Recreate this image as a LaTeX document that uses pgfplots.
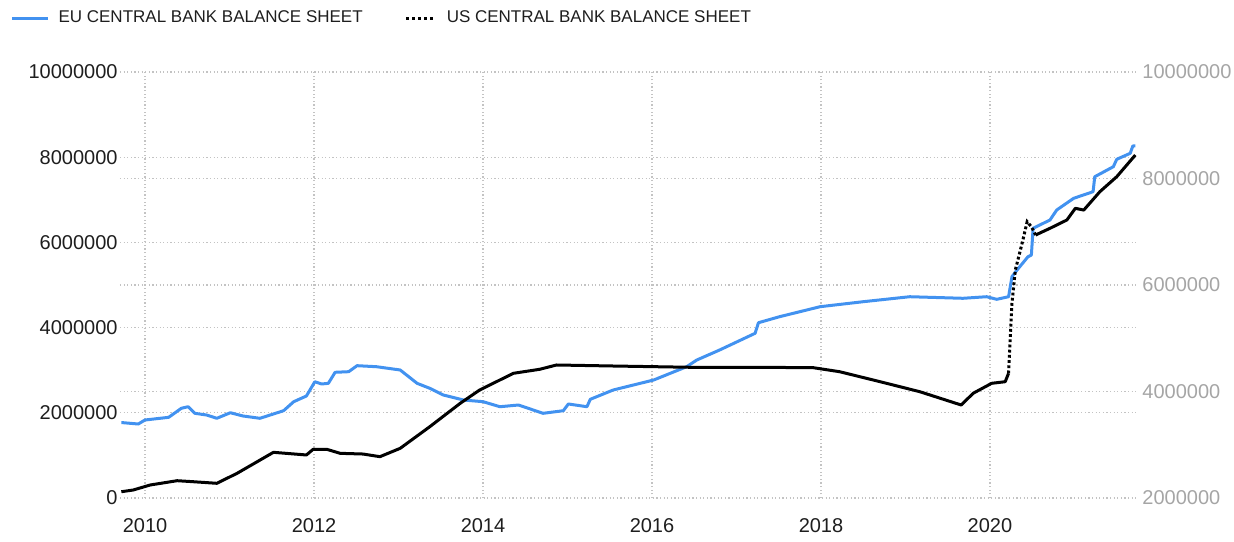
\documentclass[border=0pt]{standalone}
\usepackage{fontspec}
\setmainfont{Liberation Sans}
\usepackage{pgfplots}
\pgfplotsset{compat=1.18}
\definecolor{eublue}{RGB}{66,146,240}
\definecolor{gridgray}{RGB}{195,195,195}
\definecolor{rightgray}{RGB}{165,165,165}
\definecolor{leftlab}{RGB}{30,30,30}

\pgfplotstableread{
x y
2009.72 1770000
2009.74 1768000
2009.92 1737000
2010.00 1831000
2010.28 1894000
2010.43 2106000
2010.51 2143000
2010.59 1988000
2010.73 1948000
2010.85 1871000
2011.01 2002000
2011.16 1925000
2011.36 1871000
2011.64 2049000
2011.76 2261000
2011.91 2394000
2012.01 2730000
2012.09 2676000
2012.17 2692000
2012.25 2951000
2012.41 2965000
2012.51 3106000
2012.74 3082000
2013.02 3005000
2013.22 2692000
2013.37 2575000
2013.53 2418000
2013.77 2300000
2014.00 2261000
2014.20 2143000
2014.42 2183000
2014.71 1988000
2014.95 2049000
2015.01 2207000
2015.23 2143000
2015.27 2317000
2015.54 2535000
2016.02 2770000
2016.41 3082000
2016.53 3239000
2016.80 3474000
2017.22 3866000
2017.26 4115000
2017.51 4256000
2017.99 4491000
2018.50 4608000
2019.05 4725000
2019.68 4688000
2019.96 4725000
2020.08 4664000
2020.22 4725000
2020.26 5195000
2020.32 5352000
2020.45 5664000
2020.49 5704000
2020.51 6331000
2020.71 6526000
2020.79 6761000
2020.99 7035000
2021.22 7190000
2021.24 7542000
2021.46 7777000
2021.50 7951000
2021.66 8092000
2021.69 8263000
2021.72 8263000
}\eudata

\pgfplotstableread{
x y
2009.72 2118000
2009.86 2150000
2010.06 2244000
2010.38 2325000
2010.57 2306000
2010.85 2276000
2011.09 2464000
2011.52 2858000
2011.91 2808000
2011.99 2915000
2012.15 2915000
2012.31 2839000
2012.58 2826000
2012.78 2776000
2013.02 2933000
2013.37 3339000
2013.73 3778000
2013.96 4028000
2014.36 4342000
2014.67 4417000
2014.87 4498000
2015.54 4479000
2016.49 4454000
2017.32 4454000
2017.91 4447000
2018.22 4372000
2018.70 4184000
2019.17 3996000
2019.66 3746000
2019.80 3966000
2020.02 4154000
2020.18 4184000
2020.22 4342000
}\usdataA

\pgfplotstableread{
x y
2020.22 4342000
2020.24 5029000
2020.26 5656000
2020.30 6282000
2020.38 6783000
2020.44 7189000
2020.49 7095000
2020.54 6939000
}\usdataB

\pgfplotstableread{
x y
2020.54 6939000
2020.71 7065000
2020.91 7221000
2021.01 7440000
2021.11 7408000
2021.30 7752000
2021.50 8034000
2021.72 8441000
}\usdataC

\begin{document}
\begin{tikzpicture}
\pgfplotsset{
  common/.style={
    scale only axis, width=508.5pt, height=213pt,
    xmin=2009.704, xmax=2021.74,
    tick style={draw=none},
    scaled y ticks=false, scaled x ticks=false,
    ticklabel style={font=\fontsize{10}{12}\selectfont, inner sep=0pt},
  }
}
\begin{axis}[common, name=ax,
  ymin=0, ymax=10000000,
  axis line style={draw=none},
  xtick={2010,2012,2014,2016,2018,2020},
  xticklabels={2010,2012,2014,2016,2018,2020},
  ytick={0,2000000,4000000,6000000,8000000,10000000},
  yticklabels={0,2000000,4000000,6000000,8000000,10000000},
  extra y ticks={2500000,5000000,7500000},
  extra y tick labels={},
  extra y tick style={grid=major},
  grid=major,
  major grid style={gridgray, line width=0.6pt, dash pattern=on 0.6pt off 1.2pt},
  xticklabel style={yshift=-10pt, text=leftlab},
  yticklabel style={xshift=-1pt, text=leftlab},
  legend columns=2,
  legend style={draw=none, fill=none, inner sep=0pt,
    at={(-0.108,1.126)}, anchor=west,
    font=\fontsize{8.5}{10}\selectfont, text=leftlab,
    /tikz/every even column/.append style={column sep=19pt},
    /tikz/every odd column/.append style={column sep=2.5pt}},
  legend image code/.code={\draw[#1] (0pt,0pt) -- (18pt,0pt);},
]
\addplot[eublue, line width=1.5pt, line join=round] table[x=x,y=y] {\eudata};
\addlegendentry{EU CENTRAL BANK BALANCE SHEET}
\addlegendimage{legend image code/.code={\draw[black, line width=1.5pt, dash pattern=on 1.5pt off 1.5pt] (2pt,0pt) -- (17pt,0pt);}}
\addlegendentry{US CENTRAL BANK BALANCE SHEET}
\end{axis}
\begin{axis}[common,
  ymin=2000000, ymax=10000000,
  axis x line=none,
  axis y line*=right,
  y axis line style={draw=none},
  ytick={2000000,4000000,6000000,8000000,10000000},
  yticklabels={2000000,4000000,6000000,8000000,10000000},
  yticklabel style={xshift=2.5pt, text=rightgray},
]
\addplot[black, line width=1.5pt, line join=round] table[x=x,y=y] {\usdataA};
\addplot[black, line width=1.5pt, dash pattern=on 1.4pt off 1.2pt] table[x=x,y=y] {\usdataB};
\addplot[black, line width=1.5pt, line join=round] table[x=x,y=y] {\usdataC};
\end{axis}
\pgfresetboundingbox
\path ([shift={(-60pt,-21.5pt)}]ax.south west) rectangle ([shift={(48.5pt,36pt)}]ax.north east);
\end{tikzpicture}
\end{document}
